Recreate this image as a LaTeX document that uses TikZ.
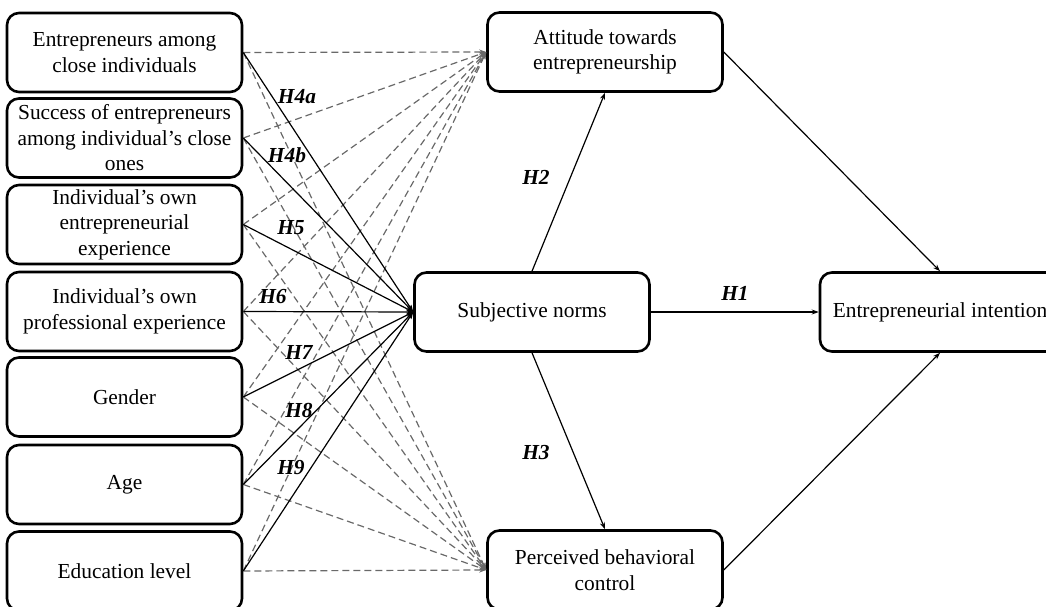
\documentclass[tikz,border=0pt]{standalone}
\usepackage{fontspec}
\setmainfont{Liberation Serif}
\usetikzlibrary{arrows.meta}
\definecolor{dashgray}{RGB}{105,105,105}
\begin{document}
\begin{tikzpicture}[x=1pt,y=-1pt,
  box/.style={draw, line width=2.6pt, rounded corners=12pt, minimum width=235pt, minimum height=79pt, align=center, inner sep=2pt, font=\fontsize{21.4}{25.5}\selectfont},
  solidarr/.style={line width=1.2pt, -{Stealth[length=7pt,width=5pt]}},
  dasharr/.style={dashgray, line width=1.2pt, dash pattern=on 7pt off 4pt, -{Stealth[length=7pt,width=5pt]}},
  hyp/.style={font=\fontsize{21.4}{25}\selectfont\bfseries\itshape, inner sep=0pt}]
\useasboundingbox (0,0) rectangle (1046,607);

\node[box] (e1) at (124.5,52.5) {Entrepreneurs among\\close individuals};
\node[box] (e2) at (124.5,138) {Success of entrepreneurs\\among individual’s close\\ones};
\node[box] (e3) at (124.5,224.5) {Individual’s own\\entrepreneurial\\experience};
\node[box] (e4) at (124.5,311.5) {Individual’s own\\professional experience};
\node[box] (e5) at (124.5,397) {Gender};
\node[box] (e6) at (124.5,484.5) {Age};
\node[box] (e7) at (124.5,571) {Education level};

\node[box] (att) at (605,52) {Attitude towards\\entrepreneurship};
\node[box] (sn) at (532,312) {Subjective norms};
\node[box] (pbc) at (605,570) {Perceived behavioral\\control};
\node[box, minimum width=240pt] (ei) at (940,312) {Entrepreneurial intention};

\foreach \n in {e1,e2,e3,e4,e5,e6,e7}{
  \draw[dasharr] (\n.east) -- (att.west);
  \draw[dasharr] (\n.east) -- (pbc.west);
}
\foreach \n in {e1,e2,e3,e4,e5,e6,e7}{
  \draw[solidarr] (\n.east) -- (sn.west);
}

\draw[solidarr] (sn.north) -- (att.south);
\draw[solidarr] (sn.south) -- (pbc.north);
\draw[solidarr] (sn.east) -- (ei.west);
\draw[solidarr] (att.east) -- (ei.north);
\draw[solidarr] (pbc.east) -- (ei.south);

\node[hyp] (h4a) at (297,97) {H4a};
\node[hyp] (h4b) at (287,155) {H4b};
\node[hyp] (h5) at (291,228) {H5};
\node[hyp] (h6) at (273,297) {H6};
\node[hyp] (h7) at (299,352) {H7};
\node[hyp] (h8) at (299,410) {H8};
\node[hyp] (h9) at (291,468) {H9};
\node[hyp] (h2) at (536,177) {H2};
\node[hyp] (h1) at (735,293) {H1};
\node[hyp] (h3) at (536,453) {H3};
\end{tikzpicture}
\end{document}
